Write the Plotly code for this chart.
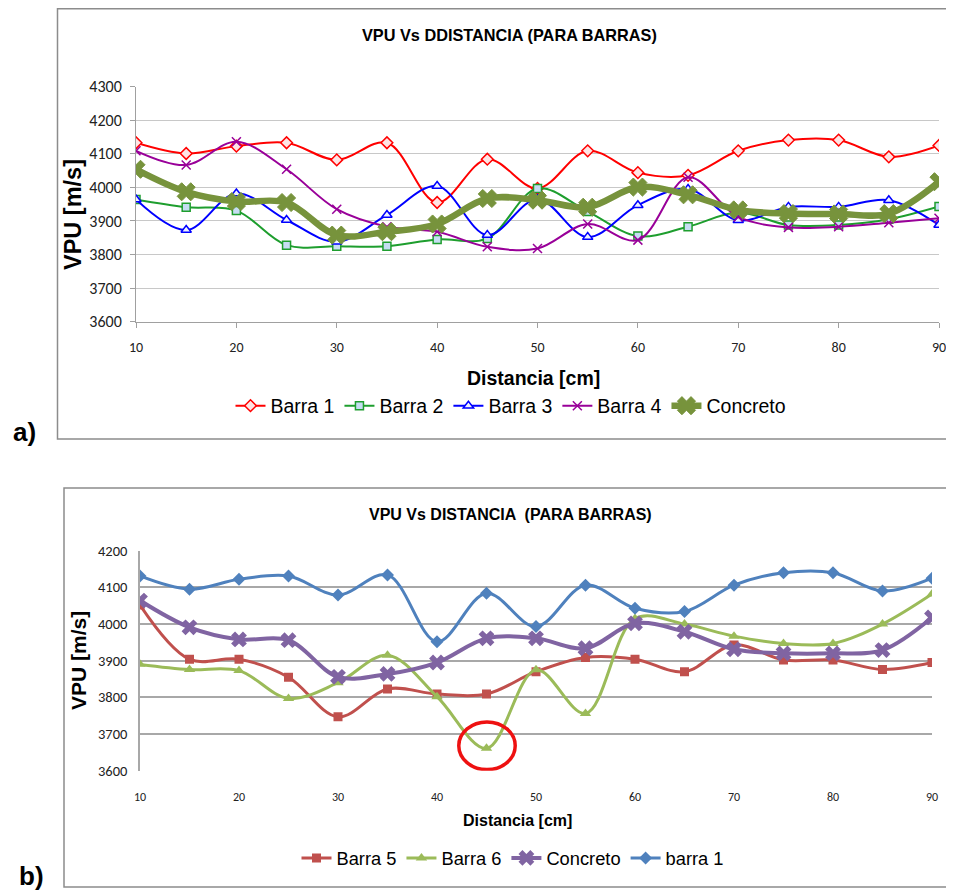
import plotly.graph_objects as go

# ---------------- data ----------------
dist = [10, 15, 20, 25, 30, 35, 40, 45, 50, 55, 60, 65, 70, 75, 80, 85, 90]

# chart a)
a_barra1 = [4133, 4101, 4123, 4133, 4082, 4133, 3955, 4084, 3997, 4109, 4044, 4036, 4109, 4141, 4141, 4091, 4125]
a_barra2 = [3964, 3941, 3931, 3828, 3825, 3825, 3845, 3848, 3997, 3928, 3855, 3883, 3925, 3888, 3888, 3905, 3943]
a_barra3 = [3964, 3873, 3982, 3903, 3838, 3918, 4004, 3858, 3965, 3852, 3947, 3995, 3902, 3942, 3942, 3962, 3888]
a_barra4 = [4109, 4067, 4136, 4054, 3935, 3883, 3868, 3823, 3818, 3891, 3843, 4030, 3912, 3881, 3883, 3895, 3908]
a_concreto = [4054, 3987, 3958, 3955, 3858, 3868, 3891, 3967, 3962, 3941, 4001, 3978, 3933, 3922, 3921, 3922, 4017]

# chart b)
b_barra5 = [4052, 3904, 3904, 3855, 3747, 3823, 3809, 3809, 3870, 3909, 3904, 3870, 3943, 3902, 3902, 3876, 3895]
b_barra6 = [3890, 3876, 3873, 3797, 3840, 3915, 3802, 3661, 3875, 3756, 4015, 4000, 3967, 3947, 3947, 4000, 4082]
b_concreto = [4064, 3991, 3958, 3956, 3856, 3864, 3895, 3961, 3961, 3934, 4002, 3979, 3931, 3920, 3920, 3929, 4018]
b_barra1 = [4131, 4095, 4122, 4131, 4079, 4134, 3952, 4084, 3993, 4106, 4043, 4034, 4106, 4140, 4140, 4090, 4125]

tick_vals = [10, 20, 30, 40, 50, 60, 70, 80, 90]

title_a = "VPU Vs DDISTANCIA (PARA BARRAS)"
title_b = "VPU Vs DISTANCIA  (PARA BARRAS)"
x_title = "Distancia [cm]"
y_title = "VPU [m/s]"

# the page body has an 8px margin, so the figure is drawn 8px smaller and
# all reference pixel positions are shifted by that offset
OFF = 8
W, H = 954 - OFF, 893 - OFF
def px(x):
    return (x - OFF) / W
def py(y):
    return 1 - (y - OFF) / H

SANS = "Liberation Sans, Arial, sans-serif"
TICKF = "Carlito, Calibri, Open Sans, sans-serif"

fig = go.Figure()

# ---------- chart a traces ----------
fig.add_trace(go.Scatter(x=dist, y=a_barra1, name="Barra 1", mode="lines+markers",
    line=dict(color="#FF0000", width=2, shape="spline", smoothing=1),
    marker=dict(symbol="diamond", size=9, color="#FFE4E4", line=dict(color="#FF0000", width=1.5)),
    xaxis="x", yaxis="y", legend="legend"))
fig.add_trace(go.Scatter(x=dist, y=a_barra2, name="Barra 2", mode="lines+markers",
    line=dict(color="#1E9E2E", width=2, shape="spline", smoothing=1),
    marker=dict(symbol="square", size=8, color="#C6DDF2", line=dict(color="#1E9E2E", width=1.5)),
    xaxis="x", yaxis="y", legend="legend"))
fig.add_trace(go.Scatter(x=dist, y=a_barra3, name="Barra 3", mode="lines+markers",
    line=dict(color="#0000FF", width=2, shape="spline", smoothing=1),
    marker=dict(symbol="triangle-up", size=9, color="#EEF2FF", line=dict(color="#0000FF", width=1.5)),
    xaxis="x", yaxis="y", legend="legend"))
fig.add_trace(go.Scatter(x=dist, y=a_barra4, name="Barra 4", mode="lines+markers",
    line=dict(color="#990099", width=2, shape="spline", smoothing=1),
    marker=dict(symbol="x-thin", size=9, color="#990099", line=dict(color="#990099", width=1.5)),
    xaxis="x", yaxis="y", legend="legend"))
fig.add_trace(go.Scatter(x=dist, y=a_concreto, name="Concreto", mode="lines+markers",
    line=dict(color="#77933C", width=6.5, shape="spline", smoothing=1),
    marker=dict(symbol="x", size=16, color="#77933C", line=dict(color="#77933C", width=1)),
    xaxis="x", yaxis="y", legend="legend"))

# ---------- chart b traces ----------
fig.add_trace(go.Scatter(x=dist, y=b_barra5, name="Barra 5", mode="lines+markers",
    line=dict(color="#C0504D", width=3, shape="spline", smoothing=1),
    marker=dict(symbol="square", size=9, color="#C0504D"),
    xaxis="x2", yaxis="y2", legend="legend2"))
fig.add_trace(go.Scatter(x=dist, y=b_barra6, name="Barra 6", mode="lines+markers",
    line=dict(color="#9BBB59", width=3, shape="spline", smoothing=1),
    marker=dict(symbol="triangle-up", size=10, color="#9BBB59"),
    xaxis="x2", yaxis="y2", legend="legend2"))
fig.add_trace(go.Scatter(x=dist, y=b_concreto, name="Concreto", mode="lines+markers",
    line=dict(color="#8064A2", width=4, shape="spline", smoothing=1),
    marker=dict(symbol="x", size=14, color="#8064A2"),
    xaxis="x2", yaxis="y2", legend="legend2"))
fig.add_trace(go.Scatter(x=dist, y=b_barra1, name="barra 1", mode="lines+markers",
    line=dict(color="#4F81BD", width=3, shape="spline", smoothing=1),
    marker=dict(symbol="diamond", size=10, color="#4F81BD"),
    xaxis="x2", yaxis="y2", legend="legend2"))

shapes = [
    dict(type="rect", xref="paper", yref="paper", x0=px(57.5), x1=px(965), y0=py(439), y1=py(8.8),
         line=dict(color="#8C8C8C", width=1.5), layer="below"),
    dict(type="rect", xref="paper", yref="paper", x0=px(64), x1=px(965), y0=py(887), y1=py(488),
         line=dict(color="#8C8C8C", width=1.5), layer="below"),
    dict(type="circle", xref="x2", yref="y2", x0=42.2, x1=47.9, y0=3603, y1=3733,
         line=dict(color="#EE1111", width=3.5)),
]

def ann(text, x, y, size, angle=0, bold=True):
    return dict(text=("<b>" + text + "</b>") if bold else text, x=px(x), y=py(y),
                xref="paper", yref="paper", xanchor="center", yanchor="middle",
                textangle=angle, showarrow=False,
                font=dict(family=SANS, size=size, color="#000"))

annotations = [
    ann(title_a, 509, 35, 16.3),
    ann(title_b, 510, 514, 16),
    ann(y_title, 73, 215, 23.5, angle=-90),
    ann(y_title, 78, 661, 21, angle=-90),
    ann(x_title, 533, 378, 19.5),
    ann(x_title, 517, 820, 16),
    ann("a)", 24, 432, 26),
    ann("b)", 31, 876, 26),
]

fig.update_layout(
    width=W, height=H,
    margin=dict(l=0, r=0, t=0, b=0, autoexpand=False),
    paper_bgcolor="white", plot_bgcolor="white",
    shapes=shapes, annotations=annotations,
    xaxis=dict(domain=[px(136), px(939)], anchor="y", range=[10, 90], tickvals=tick_vals,
               showgrid=False, zeroline=False, showline=True, linecolor="#A0A0A0", linewidth=1,
               ticks="outside", ticklen=5, tickcolor="#A0A0A0", automargin=False,
               ticklabelstandoff=7,
               tickfont=dict(family=TICKF, size=14, color="#222")),
    yaxis=dict(domain=[py(321.7), py(86.7)], anchor="x", range=[3600, 4300], dtick=100,
               showgrid=True, gridcolor="#C8C8C8", gridwidth=1, zeroline=False,
               showline=True, linecolor="#A0A0A0", linewidth=1, automargin=False,
               ticks="outside", ticklen=5, tickcolor="#A0A0A0", ticklabelstandoff=5,
               tickfont=dict(family=TICKF, size=16, color="#222")),
    xaxis2=dict(domain=[px(140), px(932)], anchor="y2", range=[10, 90], tickvals=tick_vals,
                showgrid=False, zeroline=False, showline=False, automargin=False,
                ticks="outside", ticklen=6, tickcolor="rgba(0,0,0,0)", ticklabelstandoff=9,
                tickfont=dict(family=TICKF, size=12, color="#222")),
    yaxis2=dict(domain=[py(770.7), py(550.7)], anchor="x2", range=[3600, 4200], dtick=100,
                showgrid=True, gridcolor="#A8A8A8", gridwidth=1.5, zeroline=False, automargin=False,
                showline=True, linecolor="#A8A8A8", linewidth=1.5, ticks="", ticklabelstandoff=8,
                tickfont=dict(family=TICKF, size=14.5, color="#222")),
    legend=dict(orientation="h", x=px(511), xanchor="center", y=py(406), yanchor="middle",
                font=dict(family=SANS, size=19.5, color="#000"), bgcolor="rgba(0,0,0,0)",
                itemwidth=30, tracegroupgap=0),
    legend2=dict(orientation="h", x=px(513), xanchor="center", y=py(858), yanchor="middle",
                 font=dict(family=SANS, size=18.3, color="#000"), bgcolor="rgba(0,0,0,0)",
                 itemwidth=30, tracegroupgap=0),
)

fig.write_html("out.html")
